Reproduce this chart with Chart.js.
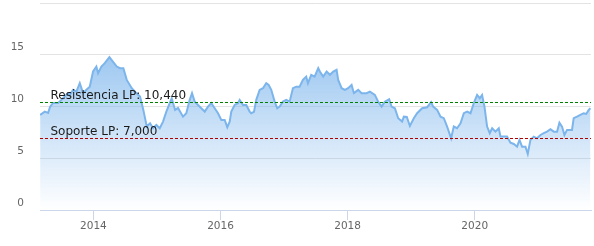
<!DOCTYPE html>
<html>
<head>
<meta charset="utf-8">
<script src="https://cdn.jsdelivr.net/npm/chart.js@4"></script>
<style>
  html, body { margin: 0; padding: 0; background: #fff; }
  canvas { display: block; }
</style>
</head>
<body>
<canvas id="price-chart" width="594" height="246"></canvas>
<script>
// decimal years of each observation
const dates = [
  2013.162, 2013.236, 2013.288, 2013.319, 2013.366, 2013.445, 2013.497, 2013.550, 2013.602, 2013.629,
  2013.681, 2013.733, 2013.786, 2013.838, 2013.890, 2013.943, 2013.995, 2014.047, 2014.074, 2014.126,
  2014.179, 2014.252, 2014.310, 2014.368, 2014.420, 2014.472, 2014.525, 2014.604, 2014.671, 2014.734,
  2014.786, 2014.840, 2014.892, 2014.939, 2014.991, 2015.044, 2015.096, 2015.148, 2015.201, 2015.233,
  2015.285, 2015.332, 2015.410, 2015.462, 2015.516, 2015.552, 2015.594, 2015.646, 2015.698, 2015.752,
  2015.803, 2015.855, 2015.909, 2015.961, 2016.013, 2016.066, 2016.107, 2016.145, 2016.170, 2016.223,
  2016.275, 2016.302, 2016.354, 2016.406, 2016.459, 2016.484, 2016.527, 2016.563, 2016.616, 2016.668,
  2016.720, 2016.758, 2016.799, 2016.852, 2016.893, 2016.931, 2016.983, 2017.035, 2017.088, 2017.140,
  2017.192, 2017.245, 2017.297, 2017.349, 2017.376, 2017.428, 2017.481, 2017.538, 2017.564, 2017.616,
  2017.670, 2017.722, 2017.774, 2017.827, 2017.852, 2017.906, 2017.958, 2018.009, 2018.063, 2018.099,
  2018.167, 2018.220, 2018.299, 2018.351, 2018.429, 2018.481, 2018.535, 2018.586, 2018.654, 2018.692,
  2018.744, 2018.796, 2018.858, 2018.885, 2018.932, 2018.980, 2019.042, 2019.094, 2019.173, 2019.252,
  2019.314, 2019.346, 2019.409, 2019.462, 2019.514, 2019.566, 2019.629, 2019.671, 2019.723, 2019.777,
  2019.829, 2019.881, 2019.934, 2019.986, 2020.038, 2020.080, 2020.116, 2020.154, 2020.195, 2020.237,
  2020.274, 2020.327, 2020.379, 2020.406, 2020.458, 2020.509, 2020.563, 2020.615, 2020.667, 2020.705,
  2020.745, 2020.799, 2020.835, 2020.877, 2020.929, 2020.981, 2021.035, 2021.087, 2021.138, 2021.192,
  2021.244, 2021.296, 2021.333, 2021.374, 2021.412, 2021.453, 2021.531, 2021.558, 2021.610, 2021.663,
  2021.715, 2021.755, 2021.794, 2021.821
];

const prices = [
  9.19, 9.51, 9.38, 9.99, 10.35, 10.35, 10.64, 10.96, 11.29, 11.12,
  11.61, 11.44, 12.25, 11.29, 11.61, 11.92, 13.38, 13.86, 13.22, 13.86,
  14.19, 14.77, 14.31, 13.86, 13.70, 13.70, 12.57, 11.77, 11.32, 10.96,
  9.67, 8.06, 8.38, 7.90, 8.22, 7.90, 8.54, 9.51, 10.32, 10.80,
  9.67, 9.86, 9.02, 9.35, 10.64, 11.29, 10.47, 10.15, 9.83, 9.51,
  9.99, 10.32, 9.83, 9.35, 8.70, 8.70, 8.00, 8.54, 9.51, 10.15,
  10.32, 10.64, 10.15, 10.15, 9.51, 9.35, 9.48, 10.64, 11.61, 11.77,
  12.25, 12.09, 11.61, 10.47, 9.83, 9.99, 10.47, 10.64, 10.47, 11.77,
  11.92, 11.92, 12.57, 12.89, 12.25, 13.06, 12.89, 13.70, 13.38, 12.89,
  13.38, 13.06, 13.38, 13.54, 12.57, 11.77, 11.61, 11.77, 12.09, 11.29,
  11.61, 11.29, 11.29, 11.44, 11.12, 10.47, 9.99, 10.47, 10.71, 9.99,
  9.83, 8.87, 8.54, 9.02, 8.99, 8.12, 8.87, 9.35, 9.83, 9.93,
  10.42, 9.99, 9.67, 9.02, 8.87, 8.06, 6.93, 8.06, 7.90, 8.38,
  9.35, 9.51, 9.35, 10.32, 11.12, 10.80, 11.12, 9.99, 8.06, 7.42,
  7.90, 7.57, 7.90, 7.09, 7.09, 7.09, 6.51, 6.38, 6.12, 6.77,
  6.12, 6.12, 5.42, 6.77, 7.09, 6.93, 7.25, 7.42, 7.57, 7.80,
  7.57, 7.57, 8.44, 8.06, 7.25, 7.74, 7.74, 8.87, 9.02, 9.19,
  9.35, 9.28, 9.67, 9.83
];

const xRange = [2013.16, 2021.83];
const yearTicks = [2014, 2016, 2018, 2020];
const yTicks = [0, 5, 10, 15, 20];

const levels = [10.44, 7.0];
const levelLabels = ['Resistencia LP: 10,440', 'Soporte LP: 7,000'];
const levelColors = ['#008000', '#b00000'];

const FONT = '"DejaVu Sans", Verdana, sans-serif';

// dashed support / resistance lines, snapped to whole pixels, plus their captions
const levelLinePlugin = {
  id: 'levelLines',
  afterDatasetsDraw(chart) {
    const { ctx, chartArea, scales } = chart;
    ctx.save();
    levels.forEach((level, i) => {
      const y = Math.round(scales.y.getPixelForValue(level)) + 0.5;
      ctx.strokeStyle = levelColors[i];
      ctx.lineWidth = 1;
      ctx.setLineDash([3, 2]);
      ctx.beginPath();
      ctx.moveTo(chartArea.left, y);
      ctx.lineTo(chartArea.right, y);
      ctx.stroke();

      ctx.setLineDash([]);
      ctx.font = '12px ' + FONT;
      ctx.fillStyle = '#1a1a1a';
      ctx.textBaseline = 'alphabetic';
      ctx.textAlign = 'left';
      ctx.fillText(levelLabels[i], chartArea.left + 10.5, y - 4);
    });
    ctx.restore();
  }
};

new Chart(document.getElementById('price-chart'), {
  type: 'line',
  data: {
    datasets: [
      {
        label: 'Precio',
        data: dates.map((d, i) => ({ x: d, y: prices[i] })),
        borderColor: '#7cb5ec',
        borderWidth: 2,
        pointRadius: 0,
        tension: 0,
        fill: 'origin',
        backgroundColor(context) {
          const area = context.chart.chartArea;
          if (!area) {
            return 'rgba(124,181,236,0.5)';
          }
          const gradient = context.chart.ctx.createLinearGradient(0, area.top, 0, area.bottom);
          gradient.addColorStop(0, 'rgba(124,181,236,1)');
          gradient.addColorStop(1, 'rgba(124,181,236,0)');
          return gradient;
        }
      }
    ]
  },
  options: {
    responsive: false,
    animation: false,
    layout: { padding: { top: 3, right: 3, left: 0, bottom: 0 } },
    plugins: {
      legend: { display: false },
      tooltip: { enabled: false }
    },
    scales: {
      x: {
        type: 'linear',
        min: xRange[0],
        max: xRange[1],
        afterBuildTicks(scale) {
          scale.ticks = yearTicks.map((value) => ({ value }));
        },
        afterFit(scale) {
          scale.height = 36;
          scale.paddingLeft = 0;
          scale.paddingRight = 0;
        },
        grid: {
          drawOnChartArea: false,
          drawTicks: true,
          tickLength: 10,
          color: '#ccd6eb'
        },
        border: { color: '#ccd6eb' },
        ticks: {
          padding: 0,
          maxRotation: 0,
          color: '#666666',
          font: { family: FONT, size: 10.5 },
          callback: (value) => String(value)
        }
      },
      y: {
        min: yTicks[0],
        max: yTicks[yTicks.length - 1],
        afterBuildTicks(scale) {
          scale.ticks = yTicks.map((value) => ({ value }));
        },
        afterFit(scale) {
          scale.width = 40;
          scale.paddingTop = 0;
          scale.paddingBottom = 0;
        },
        grid: {
          color: '#e3e3e3',
          drawTicks: false
        },
        border: { display: false },
        ticks: {
          padding: 16,
          labelOffset: -7,
          font: { family: FONT, size: 10.5 },
          // the top value keeps its grid line but shows no label
          color: (ctx) => (ctx.tick && ctx.tick.value === 20 ? 'rgba(0,0,0,0)' : '#666666'),
          callback: (value) => String(value)
        }
      }
    }
  },
  plugins: [levelLinePlugin]
});
</script>
</body>
</html>
